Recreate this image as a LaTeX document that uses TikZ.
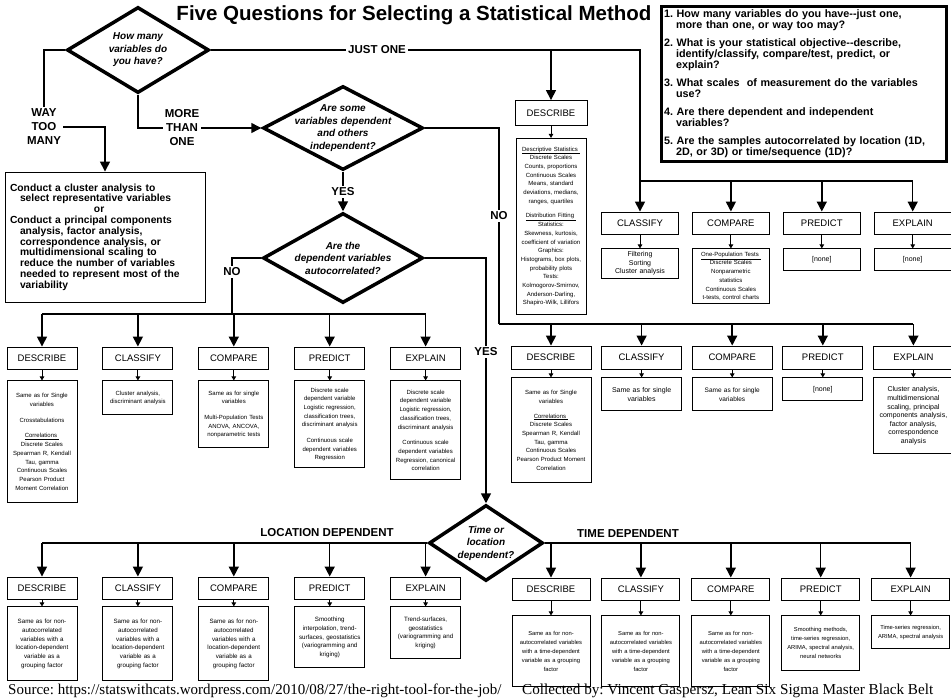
\documentclass[tikz,border=0pt]{standalone}
\usepackage{fontspec}
\setmainfont{Liberation Sans}
\newfontfamily\srcfont{Liberation Serif}
\usetikzlibrary{shapes.geometric, arrows.meta, positioning}
\tikzstyle{question} = [diamond, draw=black, line width=3.5pt, minimum width=160pt, minimum height=84pt, inner sep=0pt]
\tikzstyle{qtext} = [align=center, inner sep=0pt, font=\bfseries\itshape\fontsize{10}{12.5}\selectfont]
\tikzstyle{answer} = [align=center, inner sep=2pt, font=\bfseries\fontsize{11.5}{14}\selectfont]
\tikzstyle{task} = [rectangle, draw=black, line width=0.9pt, minimum width=70pt, minimum height=22pt, inner sep=0pt, font=\fontsize{9.5}{11}\selectfont]
\tikzstyle{methods} = [rectangle, draw=black, line width=0.9pt, text width=68pt, align=center, inner xsep=1pt, inner ysep=3pt, font=\fontsize{6}{8.7}\selectfont]
\tikzstyle{link} = [line width=1.5pt]
\tikzstyle{arrow} = [line width=1.5pt, -{Triangle[length=10pt,width=10pt]}]
\tikzstyle{subarrow} = [line width=0.9pt, -{Triangle[length=4pt,width=4.5pt]}]
\newcommand{\qind}{\hspace*{12pt}}

\begin{document}
\frenchspacing
\begin{tikzpicture}[x=1pt, y=-1pt, node distance=11pt and 25pt]

\path [use as bounding box, fill=white] (0,0) rectangle (951,699);

% Title
\node (title) [font=\bfseries\fontsize{20.5}{24}\selectfont] at (414,15) {Five Questions for Selecting a Statistical Method};

% The five questions
\node (qlist) [draw, line width=3pt, text width=279pt, minimum height=155pt, inner sep=3pt, align=left,
  font=\bfseries\fontsize{10.8}{11}\selectfont] at (803.5,83.5) {%
1. How many variables do you have-{}-just one,\\
\qind more than one, or way too may?\\[7pt]
2. What is your statistical objective-{}-describe,\\
\qind identify/classify, compare/test, predict, or\\
\qind explain?\\[7pt]
3. What scales\ \ of measurement do the variables\\
\qind use?\\[7pt]
4. Are there dependent and independent\\
\qind variables?\\[7pt]
5. Are the samples autocorrelated by location (1D,\\
\qind 2D, or 3D) or time/sequence (1D)?};

% Decisions
\node (q1) [question, minimum width=142pt, minimum height=86pt] at (138,50) {};
\node (q1t) [qtext] at (q1) {How many\\variables do\\you have?};
\node (q2) [question] at (343,128) {};
\node (q2t) [qtext] at (q2) {Are some\\variables dependent\\and others\\independent?};
\node (q3) [question, minimum height=90pt] at (343,258) {};
\node (q3t) [qtext] at (q3) {Are the\\dependent variables\\autocorrelated?};
\node (q4) [question, minimum width=114pt, minimum height=76pt] at (486,543) {};
\node (q4t) [qtext] at (q4) {Time or\\location\\dependent?};

% Answers
\node (just) [answer] at (377,50) {JUST ONE};
\node (waytoo) [answer] at (44,127) {WAY\\TOO\\MANY};
\node (more) [answer] at (182,128) {MORE\\THAN\\ONE};
\node (yes1) [answer] at (343,192) {YES};
\node (no1) [answer] at (499,216) {NO};
\node (no2) [answer] at (232,272) {NO};
\node (yes2) [answer] at (486,352) {YES};
\node (locdep) [answer] at (327,533) {LOCATION DEPENDENT};
\node (timedep) [answer] at (628,534) {TIME DEPENDENT};

% Way too many
\node (clus) [draw, line width=0.9pt, minimum width=200pt, minimum height=130pt, text width=190pt, inner sep=5pt, align=left,
  font=\bfseries\fontsize{10.3}{10.8}\selectfont] at (105,237) {%
Conduct a cluster analysis to\\
\hspace*{10pt}select representative variables\\
\hspace*{84pt}or\\
Conduct a principal components\\
\hspace*{10pt}analysis, factor analysis,\\
\hspace*{10pt}correspondence analysis, or\\
\hspace*{10pt}multidimensional scaling to\\
\hspace*{10pt}reduce the number of variables\\
\hspace*{10pt}needed to represent most of the\\
\hspace*{10pt}variability};

% Just one variable
\node (odesc) [task, minimum width=72pt, minimum height=25pt] at (551,113) {DESCRIBE};
\node (oclas) [task, minimum width=77pt] at (640,223) {CLASSIFY};
\node (ocomp) [task, minimum width=77pt, right=13pt of oclas] {COMPARE};
\node (opred) [task, minimum width=77pt, right=13pt of ocomp] {PREDICT};
\node (oexpl) [task, minimum width=77pt, right=13pt of opred] {EXPLAIN};
\node (odesct) [methods, below=12pt of odesc, minimum height=176pt] {\underline{Descriptive Statistics\ }\\Discrete Scales\\Counts, proportions\\Continuous Scales\\Means, standard\\deviations, medians,\\ranges, quartiles\\[6pt]\underline{Distribution Fitting\ }\\Statistics:\\Skewness, kurtosis,\\coefficient of variation\\Graphics:\\Histograms, box plots,\\probability plots\\Tests:\\Kolmogorov-Smirnov,\\Anderson-Darling,\\Shapiro-Wilk, Lillifors};
\node (oclast) [methods, text width=75pt, below=14pt of oclas, minimum height=28pt, font=\fontsize{7}{8.3}\selectfont] {Filtering\\Sorting\\Cluster analysis};
\node (ocompt) [methods, text width=75pt, below=14pt of ocomp, minimum height=54pt] {\underline{One-Population Tests\ }\\Discrete Scales\\Nonparametric\\statistics\\Continuous Scales\\t-tests, control charts};
\node (opredt) [methods, text width=75pt, below=14pt of opred, minimum height=22pt, font=\fontsize{7}{8.5}\selectfont] {[none]};
\node (oexplt) [methods, text width=75pt, below=14pt of oexpl, minimum height=22pt, font=\fontsize{7}{8.5}\selectfont] {[none]};

% No dependent variables
\node (mdesc) [task, minimum width=80pt, minimum height=23pt] at (551,357.5) {DESCRIBE};
\node (mclas) [task, minimum width=80pt, minimum height=23pt, right=9.7pt of mdesc] {CLASSIFY};
\node (mcomp) [task, minimum width=80pt, minimum height=23pt, right=9.7pt of mclas] {COMPARE};
\node (mpred) [task, minimum width=80pt, minimum height=23pt, right=9.7pt of mcomp] {PREDICT};
\node (mexpl) [task, minimum width=80pt, minimum height=23pt, right=9.7pt of mpred] {EXPLAIN};
\node (mdesct) [methods, text width=78pt, below=8pt of mdesc, minimum height=105pt] {Same as for Single\\variables\\[6pt]\underline{Correlations\ }\\Discrete Scales\\Spearman R, Kendall\\Tau, gamma\\Continuous Scales\\Pearson Product Moment\\Correlation};
\node (mclast) [methods, text width=78pt, below=8pt of mclas, minimum height=33pt, font=\fontsize{7}{8.6}\selectfont] {Same as for single\\variables};
\node (mcompt) [methods, text width=78pt, below=8pt of mcomp, minimum height=33pt, font=\fontsize{6.5}{8.6}\selectfont] {Same as for single\\variables};
\node (mpredt) [methods, text width=78pt, below=8pt of mpred, minimum height=23pt, font=\fontsize{7}{8.6}\selectfont] {[none]};
\node (mexplt) [methods, text width=78pt, below=8pt of mexpl, minimum height=76pt, font=\fontsize{7}{8.6}\selectfont] {Cluster analysis,\\multidimensional\\scaling, principal\\components analysis,\\factor analysis,\\correspondence\\analysis};

% Dependent, not autocorrelated
\node (ndesc) [task] at (42,358) {DESCRIBE};
\node (nclas) [task, right=of ndesc] {CLASSIFY};
\node (ncomp) [task, right=of nclas] {COMPARE};
\node (npred) [task, right=of ncomp] {PREDICT};
\node (nexpl) [task, right=of npred] {EXPLAIN};
\node (ndesct) [methods, below=of ndesc, minimum height=122pt] {Same as for Single\\variables\\[7pt]Crosstabulations\\[7pt]\underline{Correlations\ }\\Discrete Scales\\Spearman R, Kendall\\Tau, gamma\\Continuous Scales\\Pearson Product\\Moment Correlation};
\node (nclast) [methods, below=of nclas, minimum height=34pt] {Cluster analysis,\\discriminant analysis};
\node (ncompt) [methods, below=of ncomp, minimum height=67pt] {Same as for single\\variables\\[7pt]Multi-Population Tests\\ANOVA, ANCOVA,\\nonparametric tests};
\node (npredt) [methods, below=of npred, minimum height=87pt] {Discrete scale\\dependent variable\\Logistic regression,\\classification trees,\\discriminant analysis\\[7pt]Continuous scale\\dependent variables\\Regression};
\node (nexplt) [methods, below=of nexpl, minimum height=99pt] {Discrete scale\\dependent variable\\Logistic regression,\\classification trees,\\discriminant analysis\\[7pt]Continuous scale\\dependent variables\\Regression, canonical\\correlation};

% Location dependent
\node (ldesc) [task] at (42,588) {DESCRIBE};
\node (lclas) [task, right=of ldesc] {CLASSIFY};
\node (lcomp) [task, right=of lclas] {COMPARE};
\node (lpred) [task, right=of lcomp] {PREDICT};
\node (lexpl) [task, right=of lpred] {EXPLAIN};
\node (ldesct) [methods, below=7pt of ldesc, minimum height=74pt, font=\fontsize{6.2}{8.7}\selectfont] {Same as for non-\\autocorrelated\\variables with a\\location-dependent\\variable as a\\grouping factor};
\node (lclast) [methods, below=7pt of lclas, minimum height=74pt, font=\fontsize{6.2}{8.7}\selectfont] {Same as for non-\\autocorrelated\\variables with a\\location-dependent\\variable as a\\grouping factor};
\node (lcompt) [methods, below=7pt of lcomp, minimum height=74pt, font=\fontsize{6.2}{8.7}\selectfont] {Same as for non-\\autocorrelated\\variables with a\\location-dependent\\variable as a\\grouping factor};
\node (lpredt) [methods, below=7pt of lpred, minimum height=61pt, font=\fontsize{6.2}{8.7}\selectfont] {Smoothing\\interpolation, trend-\\surfaces, geostatistics\\(variogramming and\\kriging)};
\node (lexplt) [methods, below=7pt of lexpl, minimum height=52pt, font=\fontsize{6.2}{8.7}\selectfont] {Trend-surfaces,\\geostatistics\\(variogramming and\\kriging)};

% Time dependent
\node (tdesc) [task, minimum width=78pt] at (551,589) {DESCRIBE};
\node (tclas) [task, minimum width=78pt, right=11pt of tdesc] {CLASSIFY};
\node (tcomp) [task, minimum width=78pt, right=11pt of tclas] {COMPARE};
\node (tpred) [task, minimum width=78pt, right=11pt of tcomp] {PREDICT};
\node (texpl) [task, minimum width=78pt, right=11pt of tpred] {EXPLAIN};
\node (tdesct) [methods, text width=76pt, below=15pt of tdesc, minimum height=71pt, font=\fontsize{5.8}{9}\selectfont] {Same as for non-\\autocorrelated variables\\with a time-dependent\\variable as a grouping\\factor};
\node (tclast) [methods, text width=76pt, below=15pt of tclas, minimum height=71pt, font=\fontsize{5.8}{9}\selectfont] {Same as for non-\\autocorrelated variables\\with a time-dependent\\variable as a grouping\\factor};
\node (tcompt) [methods, text width=76pt, below=15pt of tcomp, minimum height=71pt, font=\fontsize{5.8}{9}\selectfont] {Same as for non-\\autocorrelated variables\\with a time-dependent\\variable as a grouping\\factor};
\node (tpredt) [methods, text width=76pt, below=15pt of tpred, minimum height=55pt, font=\fontsize{5.8}{9}\selectfont] {Smoothing methods,\\time-series regression,\\ARIMA, spectral analysis,\\neural networks};
\node (texplt) [methods, text width=76pt, below=15pt of texpl, minimum height=33pt, font=\fontsize{5.8}{9}\selectfont] {Time-series regression,\\ARIMA, spectral analysis};

% Source lines
\node (src) [anchor=base west, inner sep=0pt, font=\srcfont\fontsize{15}{17}\selectfont] at (8,694) {Source: https://statswithcats.wordpress.com/2010/08/27/the-right-tool-for-the-job/};
\node (coll) [anchor=base west, inner sep=0pt, font=\srcfont\fontsize{15.2}{17}\selectfont] at (522,694) {Collected by: Vincent Gaspersz, Lean Six Sigma Master Black Belt};

% Arrows way too many / more than one
\draw [link] (q1.west) -| (waytoo.north);
\draw [arrow] (waytoo.east) -| (clus.north);
\draw [link] (q1.south) |- (more.west);
\draw [arrow] (more.east) -- (q2.west);
\draw [link] (q2.south) -- (yes1);
\draw [arrow] (yes1) -- (q3.north);

% Arrows just one
\draw [link] (q1.east) -- (just);
\draw [arrow] (just) -| (oclas);
\draw [arrow] (just -| odesc) -- (odesc);
\coordinate (bar0) at (640,181);
\draw [link] (bar0) -- (bar0 -| oexpl);
\draw [arrow] (bar0 -| ocomp) -- (ocomp);
\draw [arrow] (bar0 -| opred) -- (opred);
\draw [arrow] (bar0 -| oexpl) -- (oexpl);
\draw [subarrow] (odesc) -- (odesct);
\draw [subarrow] (oclas) -- (oclast);
\draw [subarrow] (ocomp) -- (ocompt);
\draw [subarrow] (opred) -- (opredt);
\draw [subarrow] (oexpl) -- (oexplt);

% Arrows no dependent variables
\draw [link] (q2.east) -| (no1.north);
\coordinate (bar2) at (499,324);
\draw [link] (no1.south) -- (bar2);
\draw [link] (bar2) -- (bar2 -| mexpl);
\draw [arrow] (bar2 -| mdesc) -- (mdesc);
\draw [arrow] (bar2 -| mclas) -- (mclas);
\draw [arrow] (bar2 -| mcomp) -- (mcomp);
\draw [arrow] (bar2 -| mpred) -- (mpred);
\draw [arrow] (bar2 -| mexpl) -- (mexpl);
\draw [subarrow] (mdesc) -- (mdesct);
\draw [subarrow] (mclas) -- (mclast);
\draw [subarrow] (mcomp) -- (mcompt);
\draw [subarrow] (mpred) -- (mpredt);
\draw [subarrow] (mexpl) -- (mexplt);

% Arrows not autocorrelated
\draw [link] (q3.west) -| (no2.north);
\coordinate (bar1) at (232,314);
\draw [link] (no2.south) -- (bar1);
\draw [link] (bar1 -| ndesc) -- (bar1 -| nexpl);
\draw [arrow] (bar1 -| ndesc) -- (ndesc);
\draw [arrow] (bar1 -| nclas) -- (nclas);
\draw [arrow] (bar1 -| ncomp) -- (ncomp);
\draw [arrow] (bar1 -| npred) -- (npred);
\draw [arrow] (bar1 -| nexpl) -- (nexpl);
\draw [subarrow] (ndesc) -- (ndesct);
\draw [subarrow] (nclas) -- (nclast);
\draw [subarrow] (ncomp) -- (ncompt);
\draw [subarrow] (npred) -- (npredt);
\draw [subarrow] (nexpl) -- (nexplt);

% Arrows autocorrelated
\draw [link] (q3.east) -| (yes2.north);
\draw [arrow] (yes2.south) -- (q4.north);
\draw [link] (q4.west) -- (q4.west -| ldesc);
\draw [arrow] (q4.west -| ldesc) -- (ldesc);
\draw [arrow] (q4.west -| lclas) -- (lclas);
\draw [arrow] (q4.west -| lcomp) -- (lcomp);
\draw [arrow] (q4.west -| lpred) -- (lpred);
\draw [arrow] (q4.west -| lexpl) -- (lexpl);
\draw [link] (q4.east) -- (q4.east -| texpl);
\draw [arrow] (q4.east -| tdesc) -- (tdesc);
\draw [arrow] (q4.east -| tclas) -- (tclas);
\draw [arrow] (q4.east -| tcomp) -- (tcomp);
\draw [arrow] (q4.east -| tpred) -- (tpred);
\draw [arrow] (q4.east -| texpl) -- (texpl);
\draw [subarrow] (ldesc) -- (ldesct);
\draw [subarrow] (lclas) -- (lclast);
\draw [subarrow] (lcomp) -- (lcompt);
\draw [subarrow] (lpred) -- (lpredt);
\draw [subarrow] (lexpl) -- (lexplt);
\draw [subarrow] (tdesc) -- (tdesct);
\draw [subarrow] (tclas) -- (tclast);
\draw [subarrow] (tcomp) -- (tcompt);
\draw [subarrow] (tpred) -- (tpredt);
\draw [subarrow] (texpl) -- (texplt);

\end{tikzpicture}
\end{document}
